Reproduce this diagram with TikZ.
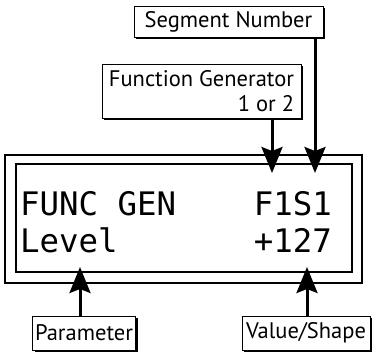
\documentclass[tikz,border=0pt]{standalone}
\usepackage{fontspec}
\setmainfont{PT Sans}
\newfontfamily\lcdfont{DejaVu Sans Mono}
\usetikzlibrary{arrows.meta,positioning,calc,shadows}

\begin{document}
\begin{tikzpicture}[x=1pt, y=1pt,
  tag/.style={draw, fill=white, line width=0.8pt, inner sep=0pt, font=\fontsize{22.5}{25}\selectfont,
    drop shadow={shadow xshift=2pt, shadow yshift=-2pt, fill=black, opacity=1}},
  frame/.style={draw, line width=1.1pt, inner sep=0pt},
  lcd/.style={font=\lcdfont\fontsize{32.4}{37}\selectfont, inner sep=0pt},
  pointer/.style={-{Stealth[width=21pt, length=26pt, inset=4pt]}, line width=3pt}
]
\useasboundingbox (0,0) rectangle (375,354);

\node[frame, minimum width=357, minimum height=128] (outer) at (183.5,135) {};
\node[frame, minimum width=336, minimum height=108] (inner) at (184,136) {};

\node[lcd, anchor=base west] (funcgen) at (20,139) {FUNC GEN};
\node[lcd, anchor=base east] (fsnum) at (332,139) {F1S1};
\node[lcd, anchor=base west] (level) at (20,102) {Level};
\node[lcd, anchor=base east] (value) at (332,102) {+127};

\node[tag, minimum width=189, minimum height=31] (segment) at (228.5,332) {Segment Number};
\node[tag, minimum width=199, minimum height=54, align=right] (fgen) at (201.5,262.5) {Function Generator\\1 or 2};
\node[tag, minimum width=103, minimum height=34] (param) at (84,21) {Parameter};
\node[tag, minimum width=128, minimum height=34] (shape) at (306,21) {Value/Shape};

\coordinate (fgtip) at (272,181);
\coordinate (segtip) at (315,181);
\coordinate (paramtip) at (80,87);
\coordinate (shapetip) at (307,87);

\draw[pointer] (fgtip |- fgen.south) -- (fgtip);
\draw[pointer] (segtip |- segment.south) -- (segtip);
\draw[pointer] (paramtip |- param.north) -- (paramtip);
\draw[pointer] (shapetip |- shape.north) -- (shapetip);

\end{tikzpicture}
\end{document}
